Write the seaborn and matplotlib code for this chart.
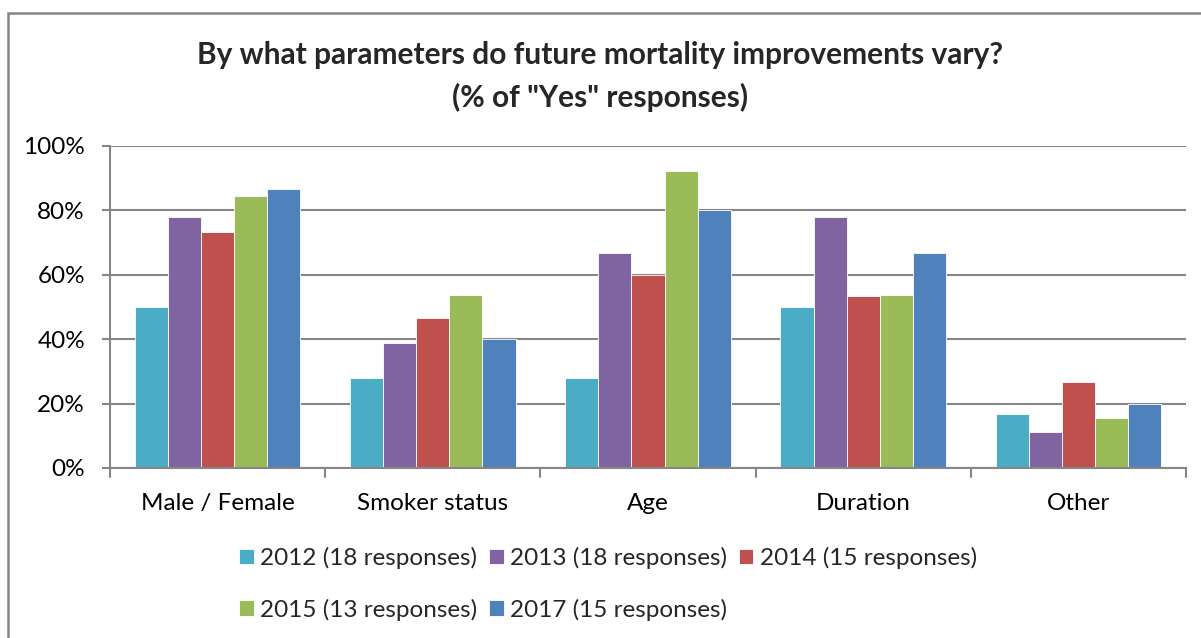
import matplotlib
matplotlib.use("Agg")
import matplotlib.pyplot as plt
import matplotlib.patches as mpatches
import seaborn as sns
import pandas as pd
import numpy as np

categories = ["Male / Female", "Smoker status", "Age", "Duration", "Other"]
series = ["2012 (18 responses)", "2013 (18 responses)", "2014 (15 responses)",
          "2015 (13 responses)", "2017 (15 responses)"]
values_2012 = [50.0, 27.8, 27.8, 50.0, 16.7]
values_2013 = [77.8, 38.9, 66.7, 77.8, 11.1]
values_2014 = [73.3, 46.7, 60.0, 53.3, 26.7]
values_2015 = [84.6, 53.8, 92.3, 53.8, 15.4]
values_2017 = [86.7, 40.0, 80.0, 66.7, 20.0]
colors = ["#4BACC6", "#8064A2", "#C0504D", "#9BBB59", "#4F81BD"]
y_ticks = [0, 20, 40, 60, 80, 100]
y_tick_labels = ["0%", "20%", "40%", "60%", "80%", "100%"]

all_values = [values_2012, values_2013, values_2014, values_2015, values_2017]
df = pd.DataFrame({
    "category": [c for _ in series for c in categories],
    "series": [s for s in series for _ in categories],
    "value": [v for vals in all_values for v in vals],
})

sns.set_theme(style="white")
plt.rcParams["font.family"] = ["Lato", "DejaVu Sans"]

fig = plt.figure(figsize=(12.01, 6.38), dpi=100)
ax = fig.add_axes([110 / 1201, 1 - 468 / 638, 1076 / 1201, 322 / 638])

sns.barplot(data=df, x="category", y="value", hue="series", order=categories,
            hue_order=series, palette=colors, width=5 / 6.5, gap=0,
            edgecolor="white", linewidth=0.6, saturation=1, ax=ax, legend=True)

grid_c = "#868686"
fs = 17.5
ax.set_ylim(0, 100)
ax.set_xlim(-0.5, len(categories) - 0.5)
ax.set_yticks(y_ticks)
ax.set_yticklabels(y_tick_labels, fontsize=fs, color="black")
ax.yaxis.grid(True, color=grid_c, linewidth=1.5)
ax.set_axisbelow(True)
ax.set_xticks(np.arange(len(categories)))
ax.set_xticklabels(categories, fontsize=fs, color="black")
ax.tick_params(axis="x", length=0, pad=18)
ax.tick_params(axis="y", length=6, width=1.5, color=grid_c, pad=12, left=True)
ax.set_xlabel("")
ax.set_ylabel("")
for side in ["top", "right"]:
    ax.spines[side].set_visible(False)
for side in ["left", "bottom"]:
    ax.spines[side].set_color(grid_c)
    ax.spines[side].set_linewidth(1.5)

# category separator ticks below the x axis
for xb in np.arange(-0.5, len(categories), 1.0):
    ax.plot([xb, xb], [0, -2.8], color=grid_c, linewidth=1.5, clip_on=False)

handles, labels = ax.get_legend_handles_labels()
ax.get_legend().remove()
order = [0, 3, 1, 4, 2]
fig.legend([handles[i] for i in order], [labels[i] for i in order],
           loc="upper left", bbox_to_anchor=(227 / 1201, 1 - 535 / 638),
           ncol=3, frameon=False, fontsize=fs, handlelength=0.6, handleheight=0.6,
           handletextpad=0.25, columnspacing=0.5, labelspacing=1.2, borderpad=0)

fig.text(600 / 1201, 1 - 55 / 638, "By what parameters do future mortality improvements vary?",
         ha="center", va="center", fontsize=21.5, fontweight="bold")
fig.text(600 / 1201, 1 - 97 / 638, '(% of "Yes" responses)',
         ha="center", va="center", fontsize=21.5, fontweight="bold")

# outer chart frame
fig.patches.append(mpatches.Rectangle((8 / 1201, -0.1), 1.2, 1 - 13 / 638 + 0.1,
                                      transform=fig.transFigure, fill=False,
                                      edgecolor=grid_c, linewidth=1.8))

fig.savefig("out.png", dpi=100)
